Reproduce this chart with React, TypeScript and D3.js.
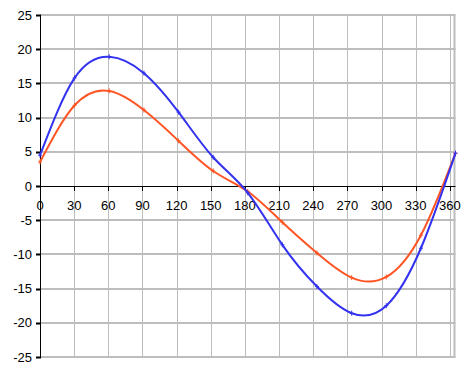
import React from "react";
import * as d3 from "d3";

const W = 464;
const H = 368;

// x positions of the samples (days of year, roughly monthly)
const days = [0, 30.4, 60.8, 91.3, 121.7, 152.1, 182.5, 212.9, 243.3, 273.8, 304.2, 334.6, 365];
const blueSeries = [4.5, 15.8, 18.9, 16.5, 10.8, 4.2, -1.0, -8.6, -14.7, -18.6, -17.5, -9.1, 4.8];
const orangeSeries = [3.5, 11.8, 13.9, 11.1, 6.6, 2.2, -0.8, -5.3, -9.8, -13.4, -13.3, -7.2, 4.8];
const xTicks = [0, 30, 60, 90, 120, 150, 180, 210, 240, 270, 300, 330, 360];
const yTicks = [-25, -20, -15, -10, -5, 0, 5, 10, 15, 20, 25];

const BLUE = "#3232f0";
const ORANGE = "#ff5525";
const GRID = "#bdbdbd";

const App = () => {
  const x = d3.scaleLinear().domain([0, 365]).range([40, 455.5]);
  const y = d3.scaleLinear().domain([-25, 25]).range([357, 15]);

  const line = d3
    .line<number>()
    .x((_, i) => x(days[i]))
    .y((d) => y(d))
    .curve(d3.curveNatural);

  const series = [
    { values: orangeSeries, color: ORANGE },
    { values: blueSeries, color: BLUE },
  ];

  const font = "'Liberation Sans', Arial, Helvetica, sans-serif";

  return (
    <svg
      width={W}
      height={H}
      style={{ position: "absolute", left: 0, top: 0, background: "#fff" }}
    >
      {/* grid */}
      <g>
        {xTicks.slice(1).map((t) => (
          <line
            key={"vx" + t}
            x1={Math.round(x(t)) + 0.5}
            x2={Math.round(x(t)) + 0.5}
            y1={y(25)}
            y2={y(-25)}
            stroke={GRID}
            strokeWidth={1}
          />
        ))}
        <line
          x1={x(365) - 1}
          x2={x(365) - 1}
          y1={y(25)}
          y2={y(-25)}
          stroke={GRID}
          strokeWidth={2}
        />
        {yTicks
          .filter((t) => t !== 0)
          .map((t) => (
            <line
              key={"hy" + t}
              x1={x(0)}
              x2={x(365)}
              y1={Math.round(y(t))}
              y2={Math.round(y(t))}
              stroke={GRID}
              strokeWidth={2}
            />
          ))}
      </g>

      {/* axes */}
      <g stroke="#000" strokeWidth={1}>
        <line x1={40.5} x2={40.5} y1={y(25)} y2={y(-25)} />
        <line x1={x(0)} x2={x(365)} y1={Math.round(y(0)) + 0.5} y2={Math.round(y(0)) + 0.5} />
        {yTicks.map((t) => (
          <line
            key={"yt" + t}
            x1={36}
            x2={41}
            y1={Math.round(y(t)) + 0.5}
            y2={Math.round(y(t)) + 0.5}
            strokeWidth={2}
          />
        ))}
        {xTicks.map((t) => (
          <line
            key={"xt" + t}
            x1={Math.round(x(t)) + 0.5}
            x2={Math.round(x(t)) + 0.5}
            y1={y(0)}
            y2={y(0) + 5}
          />
        ))}
      </g>

      {/* labels */}
      <g fontFamily={font} fontSize={13} fill="#000">
        {yTicks.map((t) => (
          <text key={"yl" + t} x={32} y={y(t)} dy="0.36em" textAnchor="end">
            {t}
          </text>
        ))}
        {xTicks.map((t) => (
          <text key={"xl" + t} x={x(t)} y={210} textAnchor="middle">
            {t}
          </text>
        ))}
      </g>

      {/* series */}
      {series.map((s, si) => (
        <g key={si}>
          <path d={line(s.values) || ""} fill="none" stroke={s.color} strokeWidth={2} />
          {s.values.map((v, i) => (
            <g key={i} stroke={s.color} strokeWidth={1}>
              <line x1={x(days[i]) - 2} x2={x(days[i]) + 2} y1={y(v)} y2={y(v)} />
              <line x1={x(days[i])} x2={x(days[i])} y1={y(v) - 2.5} y2={y(v) + 2.5} />
            </g>
          ))}
        </g>
      ))}
    </svg>
  );
};

export default App;
